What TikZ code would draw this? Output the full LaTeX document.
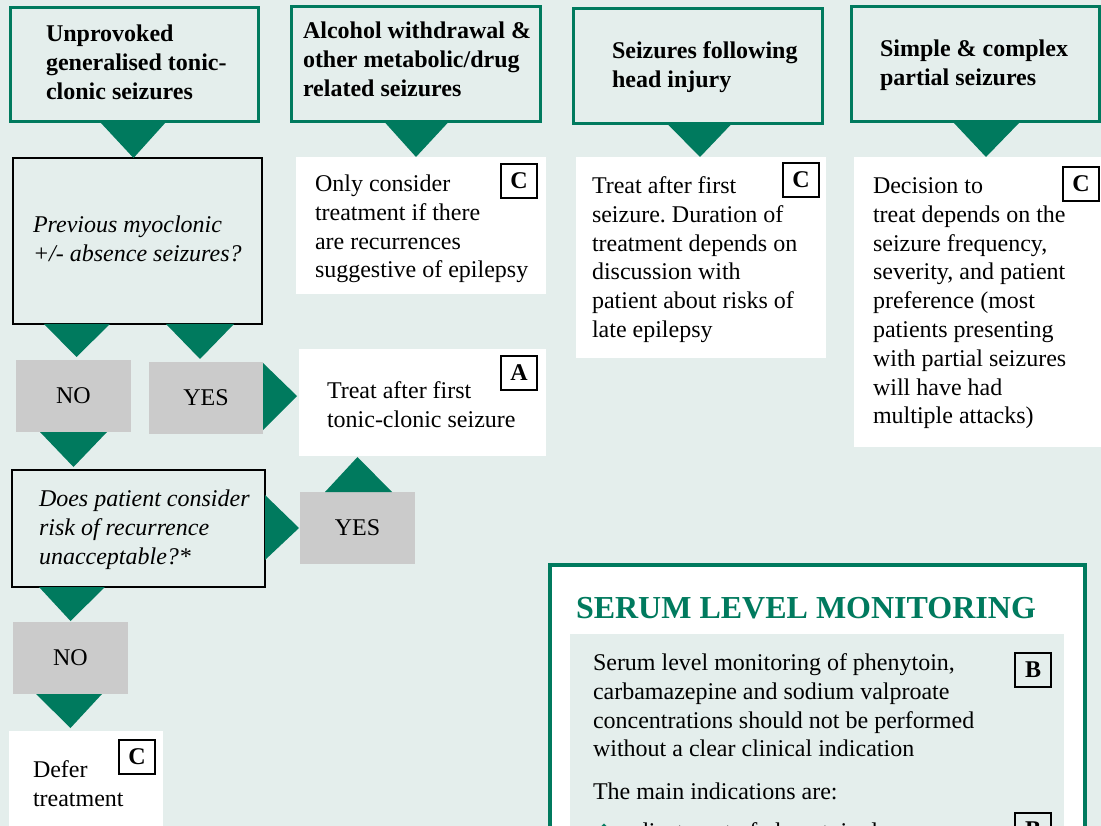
\documentclass[tikz,border=0pt]{standalone}
\usepackage{fontspec}
\setmainfont{Liberation Serif}
\newfontfamily\symfont{DejaVu Sans}
\frenchspacing

\definecolor{guidegreen}{RGB}{0,122,94}
\definecolor{panel}{RGB}{228,238,236}
\definecolor{answergrey}{RGB}{203,203,203}

\begin{document}
\begin{tikzpicture}[x=1pt,y=-1pt]
        \tikzstyle{every node}=[inner sep=0pt,outer sep=0pt,font=\fontsize{24}{28.8}\selectfont]
        \tikzstyle{box}=[rectangle,anchor=north west]
        \tikzstyle{hdr}=[box,draw=guidegreen,line width=3pt,fill=panel]
        \tikzstyle{question}=[box,draw=black,line width=2.6pt,fill=panel]
        \tikzstyle{advice}=[box,fill=white]
        \tikzstyle{answer}=[box,fill=answergrey]
        \tikzstyle{grade}=[box,draw=black,line width=1.1pt,minimum width=36pt,minimum height=34pt,font=\fontsize{24}{28.8}\selectfont\bfseries]
        \tikzstyle{txt}=[anchor=north west,align=left]
        \tikzstyle{tri}=[fill=guidegreen]

        \fill[panel] (0,0) rectangle (1101,826);
        \useasboundingbox (0,0) rectangle (1101,826);

        \node[hdr,minimum width=248pt,minimum height=114pt] (h1) at (10,8) {};
        \node[hdr,minimum width=249pt,minimum height=115pt] (h2) at (291,7) {};
        \node[hdr,minimum width=249pt,minimum height=115pt] (h3) at (573,9) {};
        \node[hdr,minimum width=248pt,minimum height=115pt] (h4) at (851,7) {};
        \node[question,minimum width=249pt,minimum height=166pt] (q1) at (13,158) {};
        \node[advice,minimum width=250pt,minimum height=137pt] (w2) at (296,157) {};
        \node[advice,minimum width=250pt,minimum height=201pt] (w3) at (576,157) {};
        \node[advice,minimum width=256pt,minimum height=290pt] (w4) at (854,157) {};
        \node[answer,minimum width=115pt,minimum height=72pt] (no1) at (16,360) {NO};
        \node[answer,minimum width=114pt,minimum height=72pt] (yes1) at (149,362) {YES};
        \node[advice,minimum width=247pt,minimum height=107pt] (wa) at (299,349) {};
        \node[question,minimum width=253pt,minimum height=117pt] (q2) at (12,470) {};
        \node[answer,minimum width=115pt,minimum height=72pt] (yes2) at (300,492) {YES};
        \node[answer,minimum width=115pt,minimum height=72pt] (no2) at (13,622) {NO};
        \node[advice,minimum width=154pt,minimum height=110pt] (wd) at (9,731) {};
        \node[box,draw=guidegreen,line width=4.5pt,fill=white,minimum width=535pt,minimum height=300pt] (serum) at (550,565) {};
        \node[box,fill=panel,minimum width=494pt,minimum height=230pt] (inner) at (570,634) {};

        \node[txt,font=\fontsize{24}{28.8}\selectfont\bfseries] (t1) at (46,21.3) {\strut Unprovoked\\generalised tonic-\\clonic seizures};
        \node[txt,font=\fontsize{24}{28.8}\selectfont\bfseries] (t2) at (303,18.3) {\strut Alcohol withdrawal \&\\other metabolic/drug\\related seizures};
        \node[txt,font=\fontsize{24}{28.8}\selectfont\bfseries] (t3) at (612,38.3) {\strut Seizures following\\head injury};
        \node[txt,font=\fontsize{24}{28.8}\selectfont\bfseries] (t4) at (880,36.3) {\strut Simple \& complex\\partial seizures};
        \node[txt,font=\fontsize{24}{28.8}\selectfont\itshape] (tq1) at (33,212.3) {\strut Previous myoclonic\\+/- absence seizures?};
        \node[txt] (tw2) at (315,171.3) {\strut Only consider\\treatment if there\\are recurrences\\suggestive of epilepsy};
        \node[txt] (tw3) at (592,173.3) {\strut Treat after first\\seizure. Duration of\\treatment depends on\\discussion with\\patient about risks of\\late epilepsy};
        \node[txt] (tw4) at (873,173.3) {\strut Decision to\\treat depends on the\\seizure frequency,\\severity, and patient\\preference (most\\patients presenting\\with partial seizures\\will have had\\multiple attacks)};
        \node[txt] (twa) at (327,378.3) {\strut Treat after first\\tonic-clonic seizure};
        \node[txt,font=\fontsize{24}{28.8}\selectfont\itshape] (tq2) at (39,486.3) {\strut Does patient consider\\risk of recurrence\\unacceptable?*};
        \node[txt] (twd) at (33,757.3) {\strut Defer\\treatment};
        \node[anchor=base west,text=guidegreen,font=\fontsize{32}{36}\selectfont\bfseries] (title) at (576,618) {SERUM LEVEL MONITORING};
        \node[txt] (tserum) at (593,650.3) {\strut Serum level monitoring of phenytoin,\\carbamazepine and sodium valproate\\concentrations should not be performed\\without a clear clinical indication};
        \node[anchor=base west] (tmain) at (593,799) {The main indications are:};
        \node[anchor=base,text=guidegreen,font=\symfont\fontsize{20}{24}\selectfont] (bullet) at (604,838) {❖};
        \node[anchor=base west] (tadjust) at (626,839) {adjustment of phenytoin dose};

        \node[grade] (g2) at (501,164) {C};
        \node[grade] (g3) at (783,163) {C};
        \node[grade] (g4) at (1063,167) {C};
        \node[grade] (ga) at (501,356) {A};
        \node[grade] (gd) at (119,740) {C};
        \node[grade] (gb1) at (1015,653) {B};
        \node[grade] (gb2) at (1015,813) {B};

        \fill[tri] ([xshift=-34pt]h1.south) -- ([xshift=32pt]h1.south) -- ([xshift=-4pt]q1.north) -- cycle;
        \fill[tri] ([xshift=-31pt]h2.south) -- ([xshift=33pt]h2.south) -- ([xshift=-5pt]w2.north) -- cycle;
        \fill[tri] ([xshift=-30pt]h3.south) -- ([xshift=34pt]h3.south) -- ([xshift=-1pt]w3.north) -- cycle;
        \fill[tri] ([xshift=-22pt]h4.south) -- ([xshift=45pt]h4.south) -- ([xshift=4pt]w4.north) -- cycle;
        \fill[tri] ([xshift=31pt]q1.south west) -- ([xshift=97pt]q1.south west) -- ([xshift=3pt,yshift=3pt]no1.north) -- cycle;
        \fill[tri] ([xshift=153pt]q1.south west) -- ([xshift=221pt]q1.south west) -- ([xshift=-6pt,yshift=3pt]yes1.north) -- cycle;
        \fill[tri] ([yshift=-1pt]yes1.north east) -- ([yshift=4pt]yes1.south east) -- ([xshift=-2pt,yshift=6.5pt]wa.west) -- cycle;
        \fill[tri] ([xshift=-33.5pt]no1.south) -- ([xshift=33.5pt]no1.south) -- ([yshift=-35pt]no1.south) -- cycle;
        \fill[tri] ([yshift=33.5pt]q2.east) -- ([yshift=-31.5pt]q2.east) -- ([xshift=-1pt]yes2.west) -- cycle;
        \fill[tri] ([xshift=-32.5pt]yes2.north) -- ([xshift=34.5pt]yes2.north) -- ([yshift=35pt]yes2.north) -- cycle;
        \fill[tri] ([xshift=27pt]q2.south west) -- ([xshift=93pt]q2.south west) -- ([yshift=1pt]no2.north) -- cycle;
        \fill[tri] ([xshift=-34.5pt]no2.south) -- ([xshift=31.5pt]no2.south) -- ([yshift=-34pt]no2.south) -- cycle;
\end{tikzpicture}
\end{document}
